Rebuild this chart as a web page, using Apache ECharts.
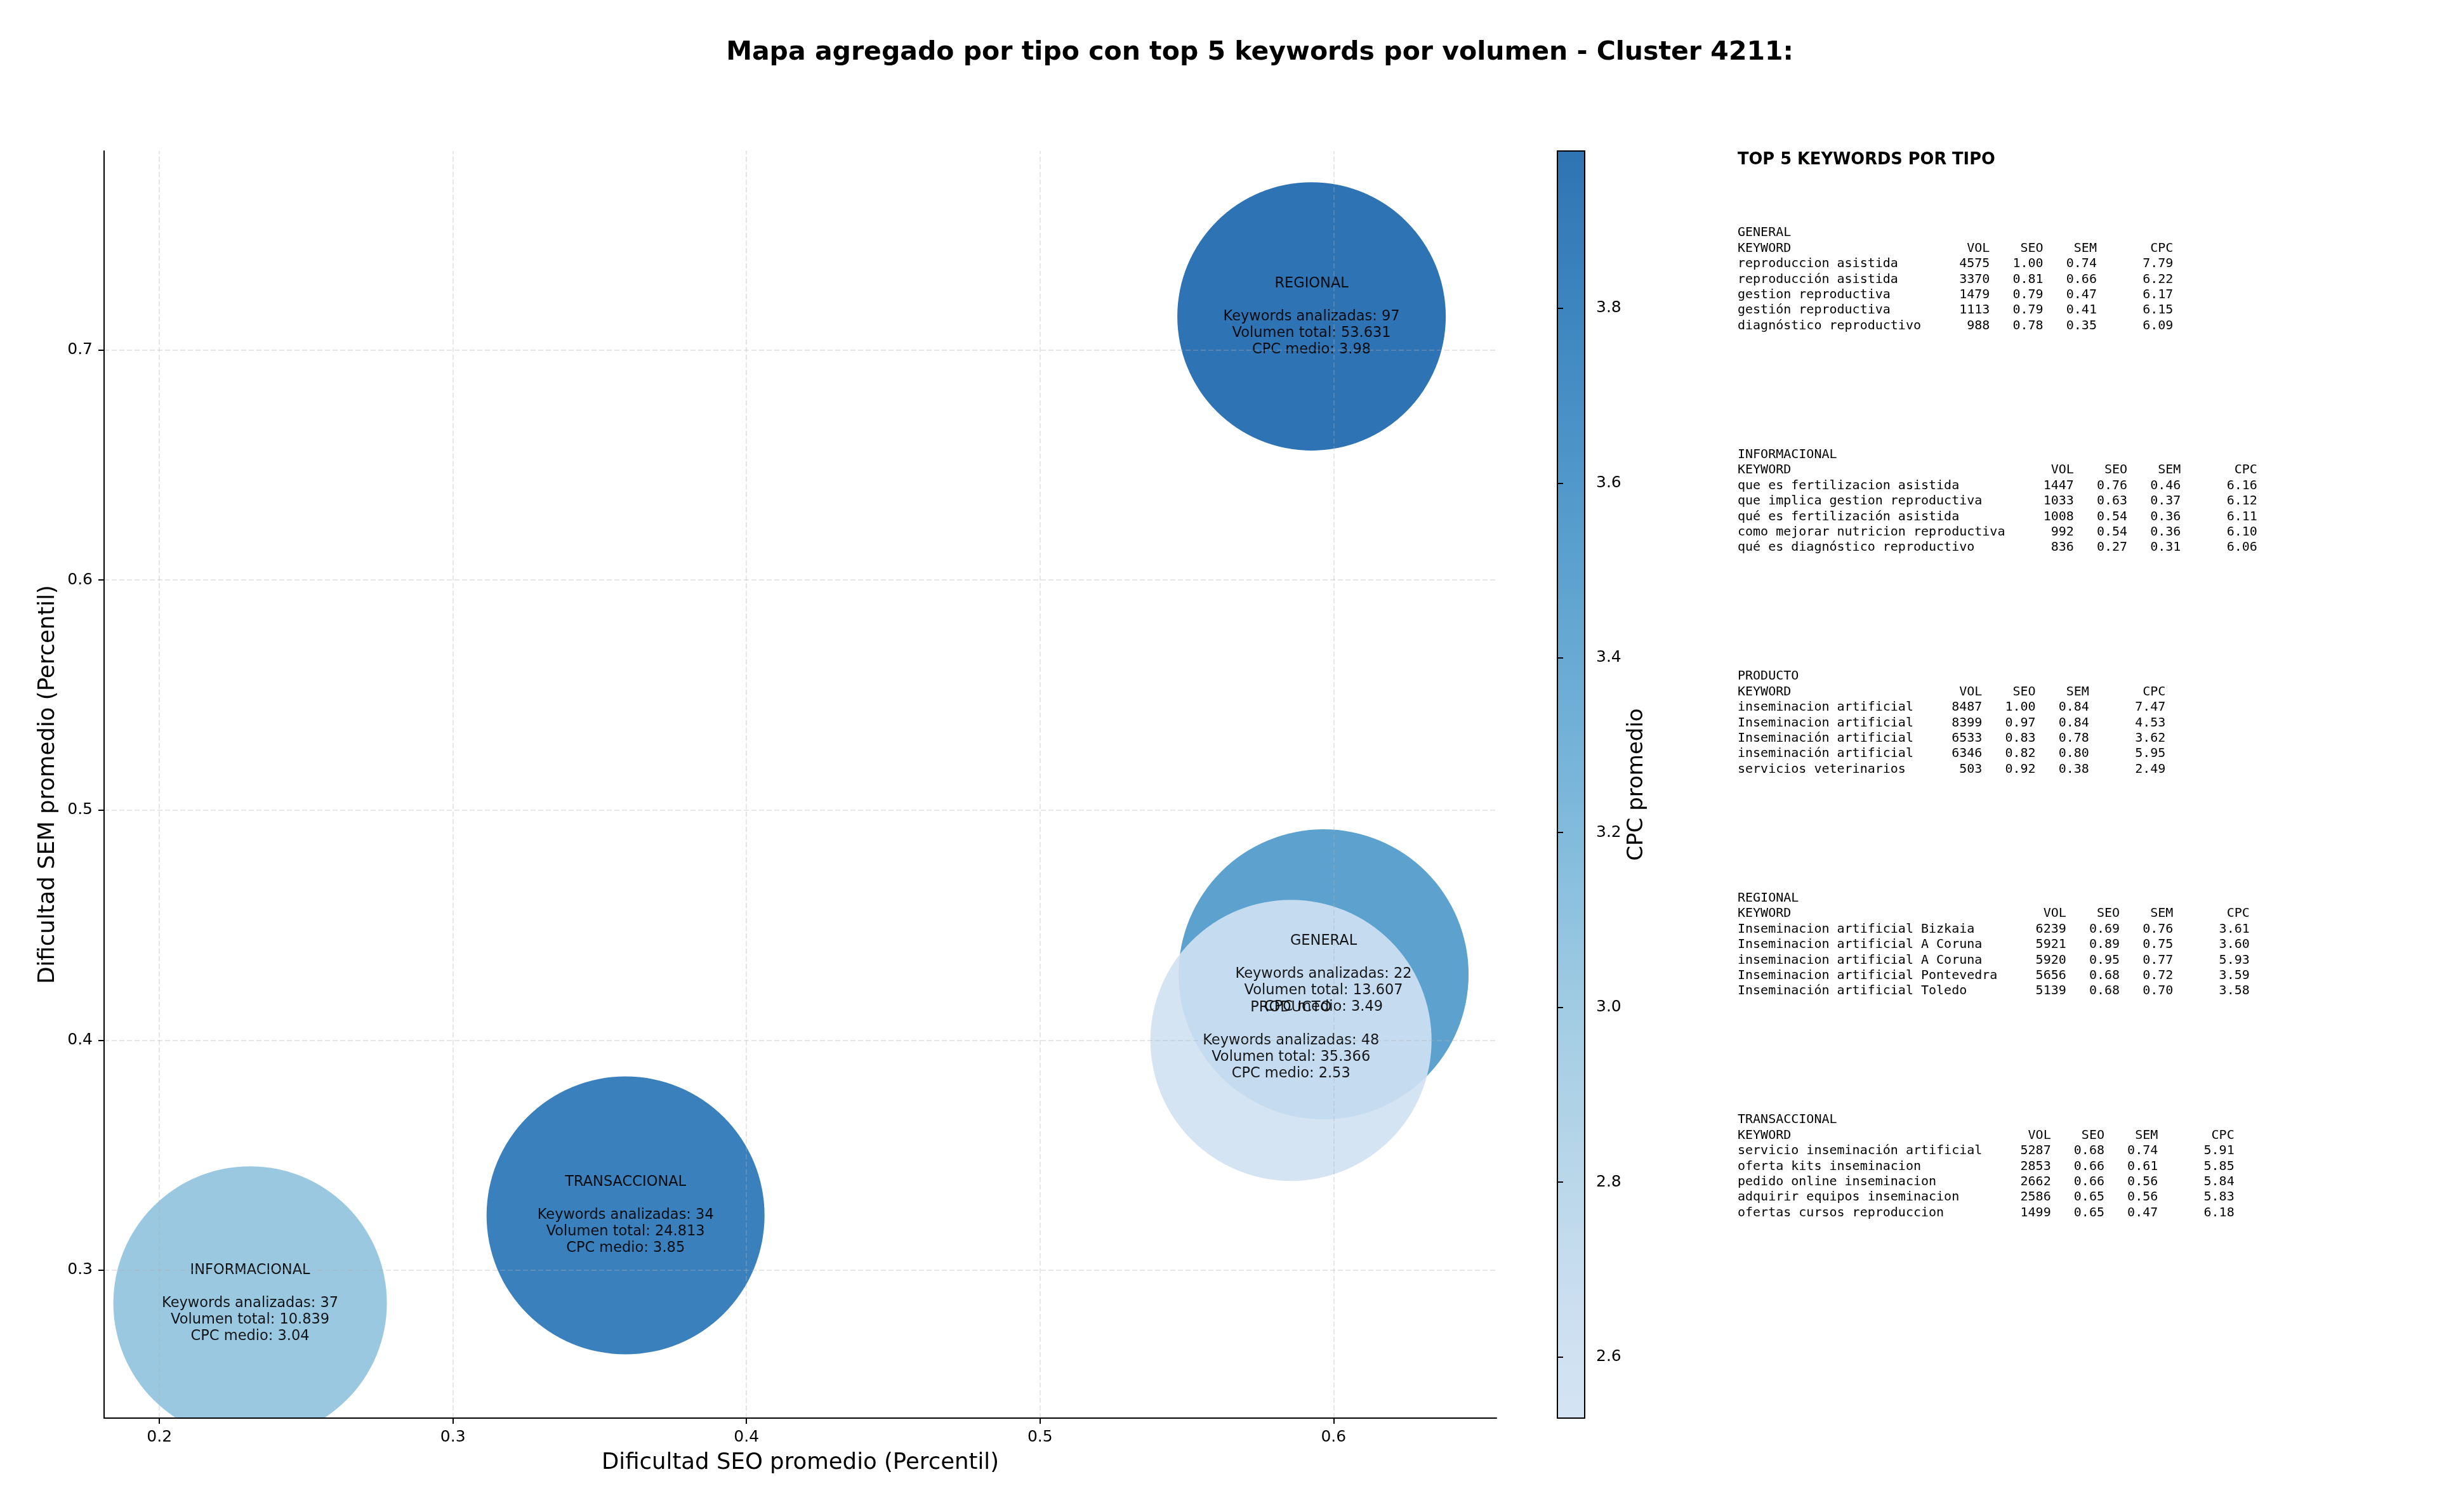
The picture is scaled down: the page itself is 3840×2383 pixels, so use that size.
<!DOCTYPE html>
<html>
<head>
<meta charset="utf-8">
<script src="https://cdn.jsdelivr.net/npm/echarts@6/dist/echarts.min.js"></script>
<style>
html, body { margin: 0; padding: 0; background: #fff; }
#chart { width: 3840px; height: 2383px; }
</style>
</head>
<body>
<div id="chart"></div>
<script>
// datos agregados por tipo
const tipos = ['GENERAL', 'INFORMACIONAL', 'PRODUCTO', 'REGIONAL', 'TRANSACCIONAL'];
const seoPromedio = [0.5966, 0.2309, 0.5855, 0.5925, 0.3588];
const semPromedio = [0.4286, 0.2857, 0.3999, 0.7146, 0.3238];
const cpcMedio = [3.49, 3.04, 2.53, 3.98, 3.85];
const numKeywords = [22, 37, 48, 97, 34];
const volumenTotal = [13607, 10839, 35366, 53631, 24813];

const xTicks = [0.2, 0.3, 0.4, 0.5, 0.6];
const yTicks = [0.3, 0.4, 0.5, 0.6, 0.7];
const cpcTicks = [2.6, 2.8, 3.0, 3.2, 3.4, 3.6, 3.8];

// top 5 keywords por tipo: [keyword, vol, seo, sem, cpc]
const topGeneral = [
    ['reproduccion asistida', 4575, 1.00, 0.74, 7.79],
    ['reproducción asistida', 3370, 0.81, 0.66, 6.22],
    ['gestion reproductiva', 1479, 0.79, 0.47, 6.17],
    ['gestión reproductiva', 1113, 0.79, 0.41, 6.15],
    ['diagnóstico reproductivo', 988, 0.78, 0.35, 6.09]
];
const topInformacional = [
    ['que es fertilizacion asistida', 1447, 0.76, 0.46, 6.16],
    ['que implica gestion reproductiva', 1033, 0.63, 0.37, 6.12],
    ['qué es fertilización asistida', 1008, 0.54, 0.36, 6.11],
    ['como mejorar nutricion reproductiva', 992, 0.54, 0.36, 6.10],
    ['qué es diagnóstico reproductivo', 836, 0.27, 0.31, 6.06]
];
const topProducto = [
    ['inseminacion artificial', 8487, 1.00, 0.84, 7.47],
    ['Inseminacion artificial', 8399, 0.97, 0.84, 4.53],
    ['Inseminación artificial', 6533, 0.83, 0.78, 3.62],
    ['inseminación artificial', 6346, 0.82, 0.80, 5.95],
    ['servicios veterinarios', 503, 0.92, 0.38, 2.49]
];
const topRegional = [
    ['Inseminacion artificial Bizkaia', 6239, 0.69, 0.76, 3.61],
    ['Inseminacion artificial A Coruna', 5921, 0.89, 0.75, 3.60],
    ['inseminacion artificial A Coruna', 5920, 0.95, 0.77, 5.93],
    ['Inseminacion artificial Pontevedra', 5656, 0.68, 0.72, 3.59],
    ['Inseminación artificial Toledo', 5139, 0.68, 0.70, 3.58]
];
const topTransaccional = [
    ['servicio inseminación artificial', 5287, 0.68, 0.74, 5.91],
    ['oferta kits inseminacion', 2853, 0.66, 0.61, 5.85],
    ['pedido online inseminacion', 2662, 0.66, 0.56, 5.84],
    ['adquirir equipos inseminacion', 2586, 0.65, 0.56, 5.83],
    ['ofertas cursos reproduccion', 1499, 0.65, 0.47, 6.18]
];

// diametro de cada burbuja en px
const bubbleSize = [457, 431, 443, 423, 438];

// Blues recortado (0.2 - 0.8)
const blues = ['#d0e1f2', '#c3daee', '#b0d1e7', '#9cc9e1', '#83bbdb', '#6baed6',
               '#57a1ce', '#4493c7', '#3383be', '#2474b6', '#1764ab'];
const alphaBurbuja = 0.9;

function mezclaBlanco(hex, a) {
    const n = parseInt(hex.slice(1), 16);
    const c = [(n >> 16) & 255, (n >> 8) & 255, n & 255].map(v => Math.round(v * a + 255 * (1 - a)));
    return 'rgb(' + c.join(',') + ')';
}

function puntos(n) {
    return String(n).replace(/\B(?=(\d{3})+(?!\d))/g, '.');
}

const chart = echarts.init(document.getElementById('chart'));

const gradStops = blues.map((c, i) => ({
    offset: 1 - i / (blues.length - 1),
    color: mezclaBlanco(c, alphaBurbuja)
}));

const font = 'DejaVu Sans';
const mono = 'DejaVu Sans Mono';

// bloques de texto del panel derecho
const bloques = [
    ['GENERAL', topGeneral],
    ['INFORMACIONAL', topInformacional],
    ['PRODUCTO', topProducto],
    ['REGIONAL', topRegional],
    ['TRANSACCIONAL', topTransaccional]
];
const panelTexts = bloques.map((b, i) => {
    const rows = b[1];
    const L = Math.max(7, ...rows.map(r => r[0].length));
    const lines = [b[0],
        'KEYWORD'.padEnd(L) + 'VOL'.padStart(9) + 'SEO'.padStart(7) + 'SEM'.padStart(7) + 'CPC'.padStart(10)];
    rows.forEach(r => {
        lines.push(r[0].padEnd(L) + String(r[1]).padStart(9) + r[2].toFixed(2).padStart(7) +
            r[3].toFixed(2).padStart(7) + r[4].toFixed(2).padStart(10));
    });
    return {
        type: 'text',
        x: 2738,
        y: 355 + i * 349.5,
        style: {
            text: lines.join('\n'),
            fontFamily: mono,
            fontSize: 20,
            lineHeight: 24.4,
            fill: '#000',
            align: 'left',
            verticalAlign: 'top'
        }
    };
});

const gridLineStyle = { color: 'rgba(176,176,176,0.3)', width: 2, type: [8, 4] };

const option = {
    animation: false,
    backgroundColor: '#fff',
    grid: [
        { left: 164, top: 238, width: 2194, height: 1997 },
        {
            left: 2454, top: 238, width: 43, height: 1997, show: true,
            backgroundColor: { type: 'linear', x: 0, y: 0, x2: 0, y2: 1, colorStops: gradStops },
            borderColor: '#000', borderWidth: 2
        }
    ],
    xAxis: [
        {
            type: 'value', gridIndex: 0, min: 0.18115, max: 0.6555, z: 120,
            name: 'Dificultad SEO promedio (Percentil)', nameLocation: 'middle', nameGap: 53,
            nameTextStyle: { fontSize: 35.5, color: '#000', fontFamily: font },
            axisLine: { show: true, onZero: false, lineStyle: { color: '#000', width: 2 } },
            axisTick: { show: true, length: 9, lineStyle: { color: '#000', width: 2 }, customValues: xTicks },
            axisLabel: { customValues: xTicks, formatter: v => v.toFixed(1), fontSize: 25, color: '#000', fontFamily: font, margin: 18 },
            splitLine: { show: false }
        },
        { type: 'value', gridIndex: 1, show: false, min: 0, max: 1 }
    ],
    yAxis: [
        {
            type: 'value', gridIndex: 0, min: 0.2357, max: 0.7865, z: 120,
            name: 'Dificultad SEM promedio (Percentil)', nameLocation: 'middle', nameGap: 70,
            nameTextStyle: { fontSize: 35.5, color: '#000', fontFamily: font },
            axisLine: { show: true, onZero: false, lineStyle: { color: '#000', width: 2 } },
            axisTick: { show: true, length: 9, lineStyle: { color: '#000', width: 2 }, customValues: yTicks },
            axisLabel: { customValues: yTicks, formatter: v => v.toFixed(1), fontSize: 25, color: '#000', fontFamily: font, margin: 18 },
            splitLine: { show: false }
        },
        {
            type: 'value', gridIndex: 1, position: 'right', min: 2.53, max: 3.98,
            name: 'CPC promedio', nameLocation: 'middle', nameGap: 65, nameRotate: 90,
            nameTextStyle: { fontSize: 34, color: '#000', fontFamily: font },
            axisLine: { show: false },
            axisTick: { show: true, length: 9, lineStyle: { color: '#000', width: 2 }, customValues: cpcTicks },
            axisLabel: { customValues: cpcTicks, formatter: v => v.toFixed(1), fontSize: 25, color: '#000', fontFamily: font, margin: 18 },
            splitLine: { show: false }
        }
    ],
    visualMap: {
        show: false, type: 'continuous', seriesIndex: 0, dimension: 2,
        min: 2.53, max: 3.98, inRange: { color: blues }
    },
    graphic: [
        {
            type: 'text', x: 1985, y: 83,
            style: {
                text: 'Mapa agregado por tipo con top 5 keywords por volumen - Cluster 4211:',
                fontFamily: font, fontSize: 41, fontWeight: 'bold', fill: '#000',
                align: 'center', verticalAlign: 'middle'
            }
        },
        {
            type: 'text', x: 2738, y: 252,
            style: {
                text: 'TOP 5 KEYWORDS POR TIPO', fontFamily: font, fontSize: 25.7, fontWeight: 'bold',
                fill: '#000', align: 'left', verticalAlign: 'middle'
            }
        },
        // tapa la parte de burbuja que sale por debajo del eje
        { type: 'rect', z: 100, silent: true, shape: { x: 0, y: 2235, width: 2440, height: 148 }, style: { fill: '#fff' } }
    ].concat(panelTexts),
    series: [
        {
            type: 'scatter',
            xAxisIndex: 0, yAxisIndex: 0,
            data: tipos.map((t, i) => [seoPromedio[i], semPromedio[i], cpcMedio[i]]),
            symbolSize: (val, params) => bubbleSize[params.dataIndex],
            itemStyle: { opacity: alphaBurbuja },
            label: {
                show: true, position: 'inside', color: '#000', fontFamily: font,
                fontSize: 22.5, lineHeight: 26, align: 'center', textBorderWidth: 0,
                formatter: p => {
                    const i = p.dataIndex;
                    return tipos[i] + '\n\nKeywords analizadas: ' + numKeywords[i] +
                        '\nVolumen total: ' + puntos(volumenTotal[i]) +
                        '\nCPC medio: ' + cpcMedio[i].toFixed(2);
                }
            },
            emphasis: { disabled: true },
            markLine: {
                silent: true, symbol: ['none', 'none'], label: { show: false },
                lineStyle: gridLineStyle,
                emphasis: { disabled: true },
                data: xTicks.map(v => ({ xAxis: v })).concat(yTicks.map(v => ({ yAxis: v })))
            }
        }
    ]
};

chart.setOption(option);
</script>
</body>
</html>
